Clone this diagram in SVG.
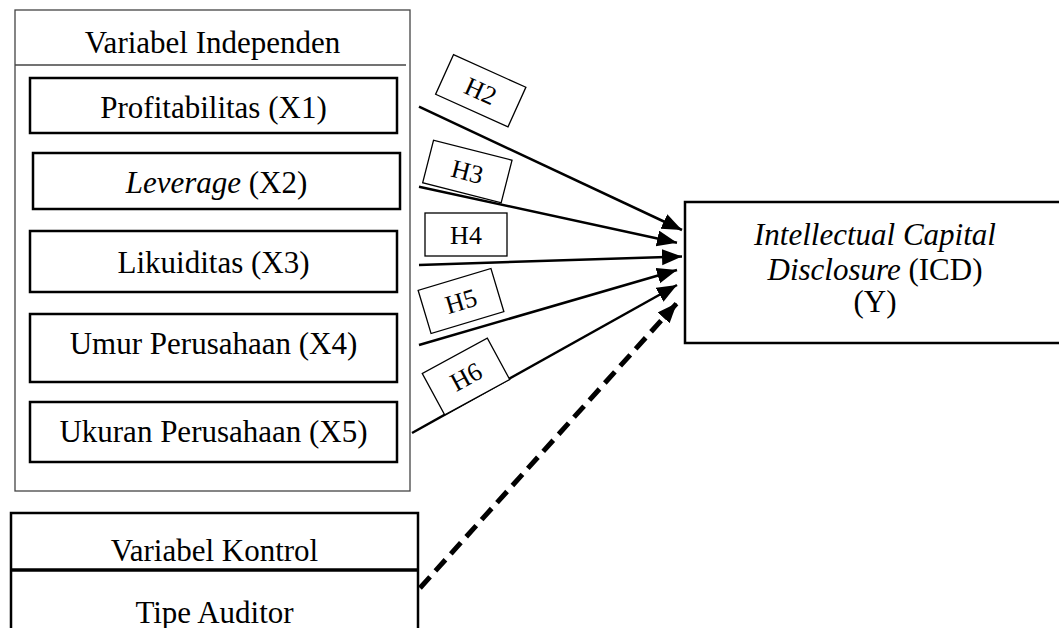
<svg xmlns="http://www.w3.org/2000/svg" width="1059" height="628" viewBox="0 0 1059 628">
<style>
text{font-family:"Liberation Serif","Times New Roman",serif;fill:#000;}
.t{font-size:31px;text-anchor:middle;}
.h{font-size:26px;text-anchor:middle;}
.box{fill:#fff;stroke:#000;stroke-width:2.5;}
.outer{fill:#fff;stroke:#444;stroke-width:1.3;}
.hb{fill:#fff;stroke:#000;stroke-width:1.3;}
.con{stroke:#000;stroke-width:2.5;fill:none;marker-end:url(#ah);}
.dash{stroke:#000;stroke-width:5;fill:none;stroke-dasharray:15 8;marker-end:url(#ah);}
</style>
<defs>
<marker id="ah" markerUnits="userSpaceOnUse" markerWidth="22" markerHeight="18" refX="20" refY="8" orient="auto">
<path d="M0,0 L20,8 L0,16 z" fill="#000"/>
</marker>
</defs>
<rect width="1059" height="628" fill="#fff"/>

<g id="independen">
<rect class="outer" x="15" y="10" width="395" height="481"/>
<line x1="15" y1="65" x2="406" y2="65" stroke="#444" stroke-width="1.3"/>
<text class="t" x="212.5" y="53">Variabel Independen</text>
</g>
<g id="x1"><rect class="box" x="30" y="78" width="367" height="55"/><text class="t" x="213.5" y="118">Profitabilitas (X1)</text></g>
<g id="x2"><rect class="box" x="33" y="153" width="367" height="56"/><text class="t" x="216.5" y="193"><tspan font-style="italic">Leverage</tspan> (X2)</text></g>
<g id="x3"><rect class="box" x="30" y="231" width="367" height="61"/><text class="t" x="213.5" y="273">Likuiditas (X3)</text></g>
<g id="x4"><rect class="box" x="30" y="314" width="367" height="68"/><text class="t" x="213.5" y="354">Umur Perusahaan (X4)</text></g>
<g id="x5"><rect class="box" x="30" y="402" width="367" height="60"/><text class="t" x="213.5" y="442">Ukuran Perusahaan (X5)</text></g>

<g id="kontrol">
<rect class="box" x="11" y="513" width="407" height="130"/>
<line x1="11" y1="570" x2="418" y2="570" stroke="#000" stroke-width="3.5"/>
<text class="t" x="214.5" y="561">Variabel Kontrol</text>
<text class="t" x="214.5" y="623">Tipe Auditor</text>
</g>

<g id="icd">
<rect class="box" x="685" y="202" width="390" height="141"/>
<text class="t" x="875" y="245" font-style="italic">Intellectual Capital</text>
<text class="t" x="875" y="280"><tspan font-style="italic">Disclosure</tspan> (ICD)</text>
<text class="t" x="875" y="312">(Y)</text>
</g>

<g id="connectors">
<line class="con" x1="419" y1="106.7" x2="682" y2="230"/>
<line class="con" x1="419" y1="186.7" x2="677" y2="242.7"/>
<line class="con" x1="419" y1="265" x2="682" y2="256.5"/>
<line class="con" x1="419" y1="345" x2="677" y2="270"/>
<line class="con" x1="412" y1="433" x2="677" y2="285" stroke-width="2"/>
<line class="dash" x1="420" y1="588" x2="677" y2="303"/>
</g>

<g id="h2" transform="translate(480.75,90.75) rotate(24.3)"><rect class="hb" x="-39.7" y="-21.75" width="79.4" height="43.5"/><text class="h" x="0" y="9">H2</text></g>
<g id="h3" transform="translate(467.35,171.5) rotate(14.3)"><rect class="hb" x="-40.5" y="-22" width="81" height="44"/><text class="h" x="0" y="9">H3</text></g>
<g id="h4" transform="translate(466,234.5)"><rect class="hb" x="-41" y="-21.5" width="82" height="43"/><text class="h" x="0" y="9">H4</text></g>
<g id="h5" transform="translate(461,301) rotate(-16.7)"><rect class="hb" x="-38" y="-22.5" width="76" height="45"/><text class="h" x="0" y="9">H5</text></g>
<g id="h6" transform="translate(466,376.5) rotate(-28.5)"><rect class="hb" x="-37" y="-23.5" width="74" height="47"/><text class="h" x="0" y="9">H6</text></g>
</svg>
